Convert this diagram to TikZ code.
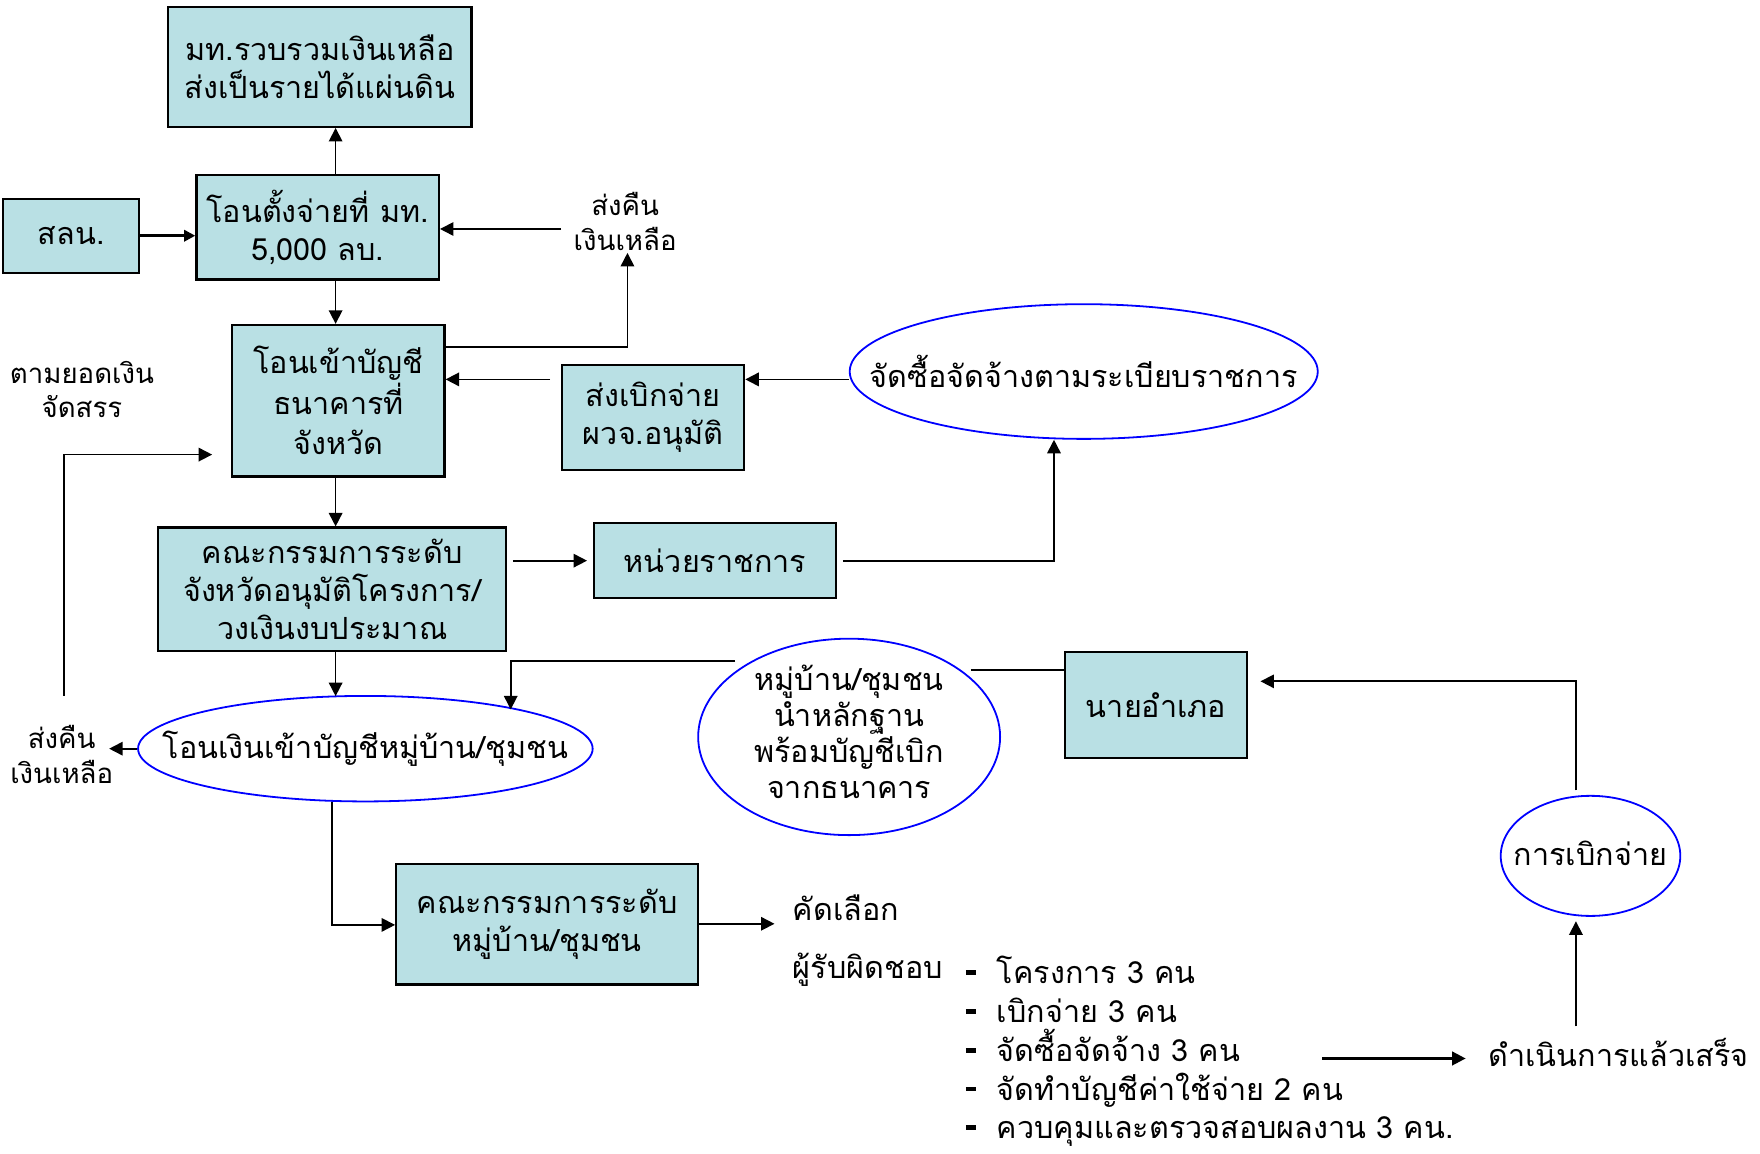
\documentclass[tikz,border=0pt]{standalone}
\usepackage{fontspec}
\newfontfamily\thai[Script=Thai]{Loma}
\usetikzlibrary{shapes.geometric,arrows.meta,calc}
\definecolor{boxfill}{RGB}{185,224,228}
\definecolor{ellblue}{RGB}{0,0,255}
\tikzset{
  box/.style={draw=black, line width=1pt, fill=boxfill, align=center, inner sep=0pt, font=\thai\fontsize{13.6}{17}\selectfont},
  ell/.style={draw=ellblue, line width=0.8pt, ellipse, inner sep=0pt},
  etext/.style={align=center, inner sep=0pt, font=\thai\fontsize{13.6}{16}\selectfont},
  lbl/.style={align=center, inner sep=0pt, font=\thai\fontsize{12.3}{15.5}\selectfont},
  txt/.style={inner sep=0pt, anchor=base west, font=\thai\fontsize{13.6}{17}\selectfont},
  arr/.style={-{Triangle[length=6pt,width=6pt]}, line width=0.75pt},
  ln/.style={line width=0.75pt},
}
\newcommand{\dashitem}{\rule[0.28em]{0.32em}{0.16em}\hspace{0.7em}}
\begin{document}
\begin{tikzpicture}[x=0.5pt,y=-0.5pt]
\useasboundingbox (0,0) rectangle (1568,1028);
% boxes
\node[box, minimum width=135pt, minimum height=53.5pt] (top) at (285,59.5) {มท.รวบรวมเงินเหลือ\\ส่งเป็นรายได้แผ่นดิน};
\node[box, minimum width=108pt, minimum height=46.5pt] (box2) at (283,202.5) {โอนตั้งจ่ายที่ มท.\\5,000 ลบ.};
\node[box, minimum width=60.5pt, minimum height=33pt] (sln) at (63.5,210) {สลน.};
\node[box, minimum width=94.5pt, minimum height=67.5pt, font=\thai\fontsize{13.6}{18}\selectfont] (box3) at (301.5,357) {โอนเข้าบัญชี\\ธนาคารที่\\จังหวัด};
\node[box, minimum width=81pt, minimum height=47pt] (sbj) at (582,372) {ส่งเบิกจ่าย\\ผวจ.อนุมัติ};
\node[ell, minimum width=208.5pt, minimum height=60pt] (proc) at (965.5,331) {};
\node[etext] (proct) at (proc) {จัดซื้อจัดจ้างตามระเบียบราชการ};
\node[box, minimum width=155pt, minimum height=55pt] (cpc) at (296,525) {คณะกรรมการระดับ\\จังหวัดอนุมัติโครงการ/\\วงเงินงบประมาณ};
\node[box, minimum width=108pt, minimum height=33.5pt] (unit) at (637,499.5) {หน่วยราชการ};
\node[ell, minimum width=202.5pt, minimum height=47pt] (trans) at (325.5,667) {};
\node[etext] (transt) at (trans) {โอนเงินเข้าบัญชีหมู่บ้าน/ชุมชน};
\node[ell, minimum width=134.5pt, minimum height=87.5pt] (vill) at (756.5,656.5) {};
\node[etext] (villt) at (756.5,652) {หมู่บ้าน/ชุมชน\\นำหลักฐาน\\พร้อมบัญชีเบิก\\จากธนาคาร};
\node[box, minimum width=81pt, minimum height=47pt] (dist) at (1030,628) {นายอำเภอ};
\node[ell, minimum width=80pt, minimum height=53.5pt] (disb) at (1417,762.5) {};
\node[etext] (disbt) at (1417,760) {การเบิกจ่าย};
\node[box, minimum width=134.5pt, minimum height=53.5pt] (vcom) at (487.5,823.5) {คณะกรรมการระดับ\\หมู่บ้าน/ชุมชน};
% texts
\node[txt] (sel) at (706,820) {คัดเลือก};
\node[txt] (resp) at (706,872) {ผู้รับผิดชอบ};
\node[txt] (i1) at (860,876) {\dashitem โครงการ 3 คน};
\node[txt] (i2) at (860,911) {\dashitem เบิกจ่าย 3 คน};
\node[txt] (i3) at (860,946) {\dashitem จัดซื้อจัดจ้าง 3 คน};
\node[txt] (i4) at (860,980) {\dashitem จัดทำบัญชีค่าใช้จ่าย 2 คน};
\node[txt] (i5) at (860,1014) {\dashitem ควบคุมและตรวจสอบผลงาน 3 คน.};
\node[txt, anchor=base] (done) at (1442,950) {ดำเนินการแล้วเสร็จ};
\node[lbl] (ret1) at (557,197) {ส่งคืน\\เงินเหลือ};
\node[lbl] (alloc) at (73,347) {ตามยอดเงิน\\จัดสรร};
\node[lbl] (ret2) at (55,672) {ส่งคืน\\เงินเหลือ};
% helper coordinates
\coordinate (spine) at (299,0);
\coordinate (d1) at (500,204);
\coordinate (e1) at (559,309);
\coordinate (f1) at (490,338);
\coordinate (h1) at (939,499.5);
\coordinate (l0) at (655,589);
\coordinate (l1) at (455,589);
\coordinate (l2) at (455,632);
\coordinate (m1) at (865,597);
\coordinate (n1) at (1404,607);
\coordinate (p1) at (1178,943);
\coordinate (q1) at (296,824);
\coordinate (t0) at (57,620);
\coordinate (t1) at (57,405);
% connectors
\draw[arr, line width=1.5pt, -{Triangle[length=5pt,width=5pt]}] (sln.east) -- (sln.east -| box2.west);
\draw[arr] (box2.north -| spine) -- (top.south -| spine);
\draw[arr] (box2.south -| spine) -- (box3.north -| spine);
\draw[arr] (d1) -- (d1 -| box2.east);
\draw[arr] (e1 -| box3.east) -- (e1) -- ($(e1 |- ret1.south)+(0,2)$);
\draw[arr] (f1) -- (f1 -| box3.east);
\draw[arr] (proc.west |- f1) -- (f1 -| sbj.east);
\draw[arr] ($(unit.east)+(5,0)$) -- (h1) -- (h1 |- proc.south);
\draw[arr] (box3.south -| spine) -- (cpc.north -| spine);
\draw[arr, shorten <=2.5pt, shorten >=2.5pt] (cpc.east |- unit.west) -- (unit.west);
\draw[arr] (cpc.south -| spine) -- ($(spine |- trans.north)+(0,1)$);
\draw[arr] (l0) -- (l1) -- (l2);
\draw[ln] (m1) -- (m1 -| dist.west);
\draw[arr] ($(n1 |- disb.north)+(0,-4)$) -- (n1) -- ($(n1 -| dist.east)+(11,0)$);
\draw[arr] ($(n1 |- done.north)+(0,-10)$) -- ($(n1 |- disb.south)+(0,4)$);
\draw[arr, line width=1.1pt] (p1) -- ($(p1 -| done.west)+(-20,0)$);
\draw[arr] (q1 |- trans.south) -- (q1) -- (q1 -| vcom.west);
\draw[arr] (vcom.east |- 0,823) -- ($(sel.west |- 0,823)+(-16,0)$);
\draw[arr] (trans.west) -- ($(trans.west -| ret2.east)+(-4,0)$);
\draw[arr] (t0) -- (t1) -- ($(t1 -| box3.west)+(-17,0)$);
\end{tikzpicture}
\end{document}
